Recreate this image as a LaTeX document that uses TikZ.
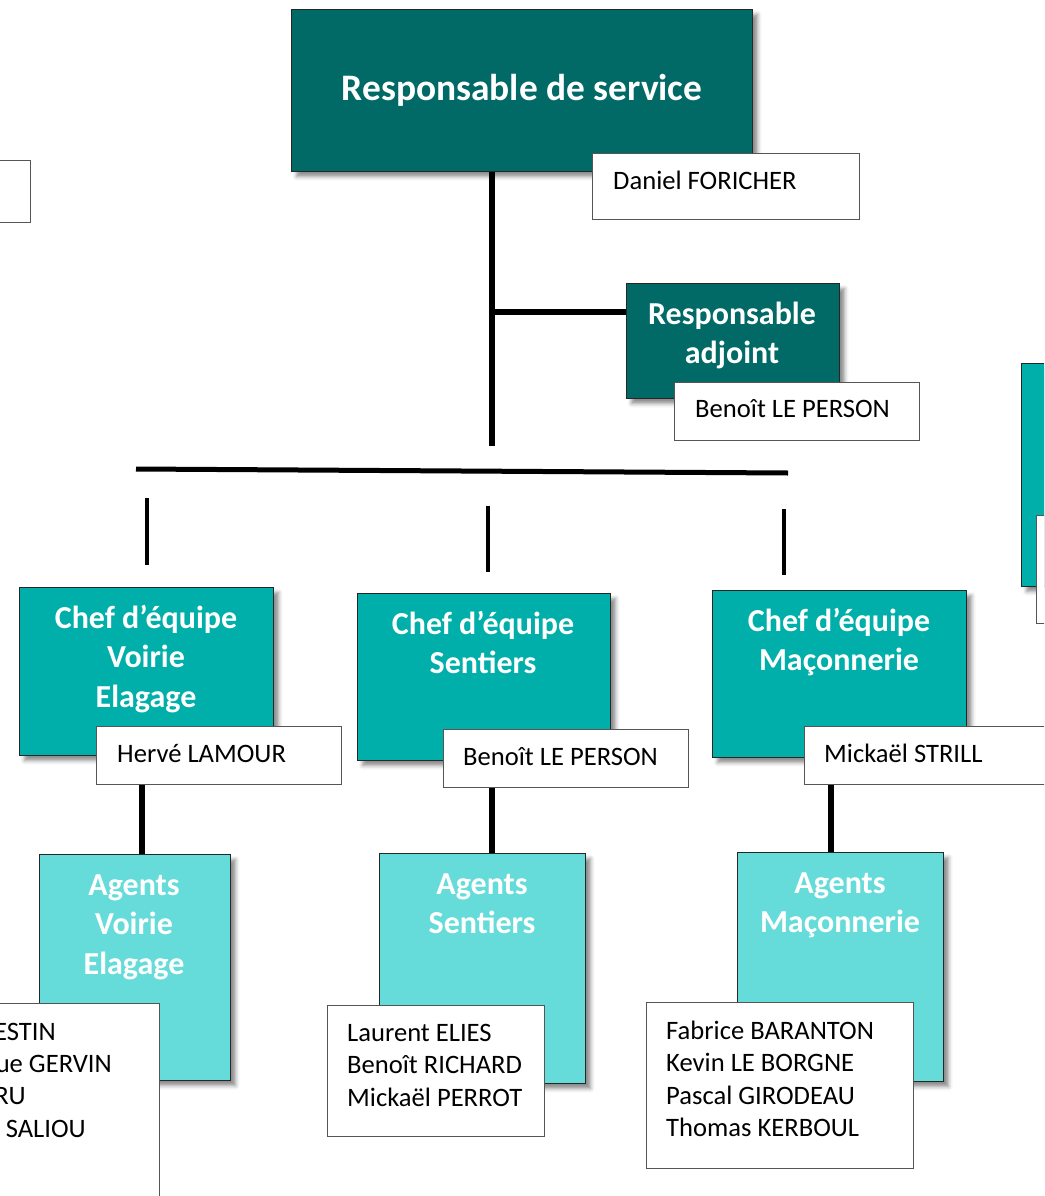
\documentclass[tikz,border=0pt]{standalone}
\usepackage{fontspec}
\setmainfont{Carlito}
\usetikzlibrary{shadows.blur}
\definecolor{dteal}{HTML}{016A66}
\definecolor{mteal}{HTML}{00AFAA}
\definecolor{lteal}{HTML}{66DCDA}
\definecolor{wborder}{HTML}{555555}
\newcommand\tstr{\rule{0pt}{27pt}}
\newcommand\nstr{\rule{0pt}{21pt}}
\begin{document}
\begin{tikzpicture}[x=1pt,y=-1pt,
  tbox/.style={draw=black!85, line width=1.2pt, anchor=north west, inner sep=0pt,
    blur shadow={shadow xshift=5pt, shadow yshift=-5pt, shadow blur radius=4pt, shadow opacity=45}},
  darkbox/.style={tbox, fill=dteal},
  midbox/.style={tbox, fill=mteal},
  lightbox/.style={tbox, fill=lteal},
  wbox/.style={draw=wborder, line width=1.2pt, fill=white, anchor=north west, inner sep=0pt},
  ttxt/.style={text=white, font=\fontsize{32}{39.5}\selectfont\bfseries, align=center, inner sep=0pt, anchor=north},
  ntxt/.style={text=black, font=\fontsize{26.6}{32.5}\selectfont, align=left, inner sep=0pt, anchor=north west},
  cuttxt/.style={text=black, font=\fontsize{26.6}{32.5}\selectfont, inner sep=0pt, anchor=base east},
  linkline/.style={line width=5.5pt, black},
  stubline/.style={line width=4.5pt, black},
]
\useasboundingbox (0,0) rectangle (1044,1196);
\clip (0,0) rectangle (1044,1196);

% ---------- coordinates for connectors ----------
\coordinate (vbot) at (492,446);
\coordinate (brj) at (492,312);
\coordinate (busL) at (136,469);
\coordinate (busR) at (788,473);
\coordinate (s1a) at (147,498); \coordinate (s1b) at (147,565);
\coordinate (s2a) at (488,506); \coordinate (s2b) at (488,572);
\coordinate (s3a) at (784,509); \coordinate (s3b) at (784,575);
\coordinate (c1l) at (142,0);
\coordinate (c2l) at (492,0);
\coordinate (c3l) at (831,0);

% ---------- partial boxes at the edges ----------
\node[wbox, minimum width=230pt, minimum height=62pt] (lb) at (-200,160) {};
\node[midbox, minimum width=229pt, minimum height=223pt] (rb) at (1021,363) {};
\node[wbox, minimum width=240pt, minimum height=108pt] (rbn) at (1036,515) {};

% ---------- top ----------
\node[darkbox, minimum width=461pt, minimum height=162pt, text=white,
      font=\fontsize{37.4}{44}\selectfont\bfseries] (rs) at (291,9) {Responsable de service};
\node[wbox, minimum width=267pt, minimum height=66pt] (n0) at (592,153) {};
\node[ntxt] (n0t) at (613,168) {\nstr Daniel FORICHER};

\draw[linkline] (rs.south -| vbot) -- (vbot);

\node[darkbox, minimum width=213pt, minimum height=115pt] (adj) at (626,283) {};
\draw[linkline] (brj) -- (brj -| adj.west);
\node[ttxt] (adjt) at (732,297) {\tstr Responsable\\adjoint};
\node[wbox, minimum width=245pt, minimum height=58pt] (n1) at (674,382) {};
\node[ntxt] (n1t) at (695,396) {\nstr Benoît LE PERSON};

% ---------- bus ----------
\draw[line width=5pt] (busL) -- (busR);
\draw[stubline] (s1a) -- (s1b);
\draw[stubline] (s2a) -- (s2b);
\draw[stubline] (s3a) -- (s3b);

% ---------- chefs ----------
\node[midbox, minimum width=254pt, minimum height=168pt] (c1) at (19,587) {};
\node[ttxt] (c1t) at (146,601) {\tstr Chef d’équipe\\Voirie\\Elagage};
\node[midbox, minimum width=253pt, minimum height=167pt] (c2) at (357,593) {};
\node[ttxt] (c2t) at (483,607) {\tstr Chef d’équipe\\Sentiers};
\node[midbox, minimum width=254pt, minimum height=167pt] (c3) at (712,590) {};
\node[ttxt] (c3t) at (839,604) {\tstr Chef d’équipe\\Maçonnerie};

% ---------- agents ----------
\node[lightbox, minimum width=191pt, minimum height=226pt] (a1) at (39,854) {};
\node[ttxt] (a1t) at (134,868) {\tstr Agents\\Voirie\\Elagage};
\node[lightbox, minimum width=206pt, minimum height=230pt] (a2) at (379,853) {};
\node[ttxt] (a2t) at (482,867) {\tstr Agents\\Sentiers};
\node[lightbox, minimum width=206pt, minimum height=229pt] (a3) at (737,852) {};
\node[ttxt] (a3t) at (840,866) {\tstr Agents\\Maçonnerie};

% ---------- chef names and links ----------
\node[wbox, minimum width=245pt, minimum height=58pt] (h1) at (96,726) {};
\node[ntxt] (h1t) at (117,741) {\nstr Hervé LAMOUR};
\node[wbox, minimum width=245pt, minimum height=58pt] (h2) at (443,729) {};
\node[ntxt] (h2t) at (463,744) {\nstr Benoît LE PERSON};
\node[wbox, minimum width=250pt, minimum height=58pt] (h3) at (804,726) {};
\node[ntxt] (h3t) at (824,741) {\nstr Mickaël STRILL};

\draw[linkline] (h1.south -| c1l) -- (a1.north -| c1l);
\draw[linkline] (h2.south -| c2l) -- (a2.north -| c2l);
\draw[linkline] (h3.south -| c3l) -- (a3.north -| c3l);

% ---------- agent names ----------
\node[wbox, minimum width=269pt, minimum height=260pt] (g1) at (-110,1003) {};
\node[cuttxt] (g1a) at (56,1040) {ESTIN};
\node[cuttxt] (g1b) at (112,1072) {ue GERVIN};
\node[cuttxt] (g1c) at (26,1104) {RU};
\node[cuttxt] (g1d) at (86,1137) {SALIOU};

\node[wbox, minimum width=217pt, minimum height=131pt] (g2) at (327,1005) {};
\node[ntxt] (g2t) at (347,1020) {\nstr Laurent ELIES\\Benoît RICHARD\\Mickaël PERROT};

\node[wbox, minimum width=267pt, minimum height=166pt] (g3) at (646,1002) {};
\node[ntxt] (g3t) at (666,1018) {\nstr Fabrice BARANTON\\Kevin LE BORGNE\\Pascal GIRODEAU\\Thomas KERBOUL};
\end{tikzpicture}
\end{document}
